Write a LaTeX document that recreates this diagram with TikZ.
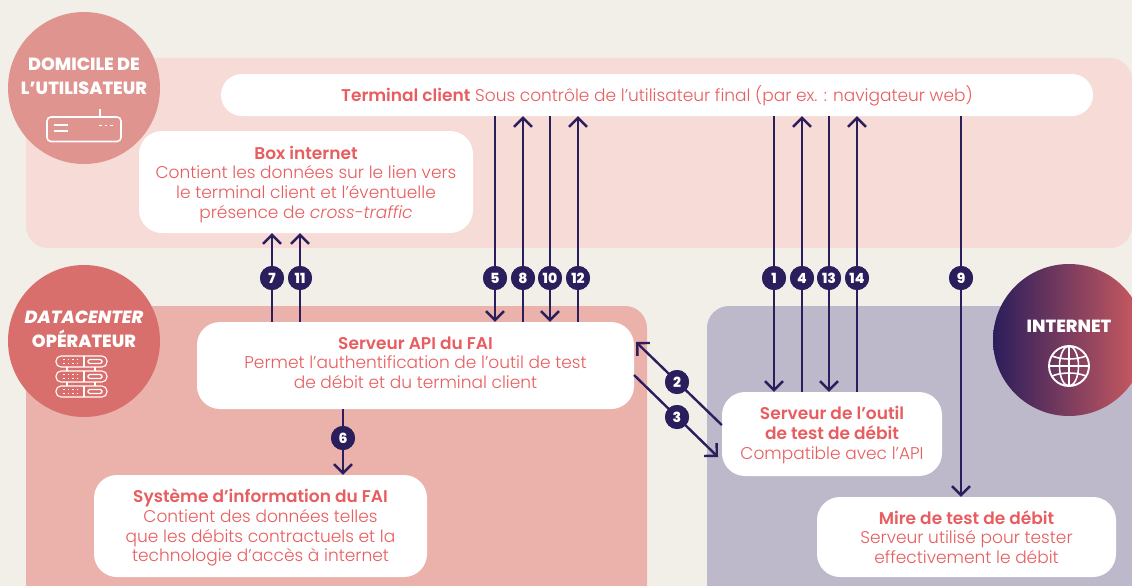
\documentclass[tikz,border=0pt]{standalone}
\usepackage{fontspec}
\setmainfont{Poppins}[UprightFont={* Light},ItalicFont={* Light Italic},BoldFont={* SemiBold},BoldItalicFont={* ExtraBold Italic}]
\newfontfamily\heavyf{Poppins}[UprightFont={* ExtraBold},ItalicFont={* ExtraBold Italic}]
\usetikzlibrary{arrows.meta,calc}
\definecolor{bgc}{HTML}{F2EFE8}
\definecolor{homec}{HTML}{F6DBD6}
\definecolor{dcc}{HTML}{EBB2AB}
\definecolor{netc}{HTML}{BDB8CA}
\definecolor{homed}{HTML}{E09490}
\definecolor{dcd}{HTML}{D96F6C}
\definecolor{navy}{HTML}{2B1E5C}
\definecolor{redt}{HTML}{E85D5F}
\definecolor{redg}{HTML}{D05C60}
\newcommand\tp[1]{\rule{0pt}{#1pt}}
\tikzset{
  x=1pt,y=-1pt,
  panel/.style={rounded corners=22pt,draw=none},
  whitebox/.style={fill=white,draw=none,rounded corners=23pt,text=redt,align=center,inner sep=0pt,font=\fontsize{17}{19.7}\selectfont},
  badge/.style={circle,fill=navy,draw=none,minimum size=24pt,inner sep=0pt,text=white,font=\heavyf\fontsize{14}{14}\selectfont},
  link/.style={draw=navy,line width=2.4pt,-{Straight Barb[length=9pt,width=18pt,line width=2.4pt]}},
  zone/.style={circle,draw=none,minimum size=152pt,inner sep=0pt},
  zonetxt/.style={text=white,align=center,inner sep=0pt,font=\heavyf\fontsize{17.6}{24}\selectfont},
  icon/.style={draw=white,line width=1.6pt,fill=none},
}
\begin{document}
\begin{tikzpicture}
\useasboundingbox (0,0) rectangle (1132,586);
\fill[bgc] (0,0) rectangle (1132,586);
\begin{scope}
\clip (0,0) rectangle (1132,586);
\fill[homec,panel] (26,58) rectangle (1132,248);
\fill[dcc,panel] (26,306) rectangle (647,640);
\fill[netc,panel] (707,306) rectangle (1180,640);
\end{scope}

% white boxes
\node[whitebox,rounded corners=21pt,minimum width=872pt,minimum height=42pt] (term) at (657,95)
  {\tp{18}\textbf{Terminal client} Sous contrôle de l’utilisateur final (par ex. : navigateur web)};
\node[whitebox,minimum width=334pt,minimum height=102pt] (box) at (306,182)
  {\tp{18}\textbf{Box internet}\\Contient les données sur le lien vers\\le terminal client et l’éventuelle\\présence de \textit{cross-traffic}};
\node[whitebox,minimum width=437pt,minimum height=87pt] (api) at (415.5,365.5)
  {\textbf{Serveur API du FAI}\\Permet l’authentification de l’outil de test\\de débit et du terminal client\rule[-6pt]{0pt}{6pt}};
\node[whitebox,minimum width=333pt,minimum height=102pt] (si) at (260.5,526)
  {\tp{17}\textbf{Système d’information du FAI}\\Contient des données telles\\que les débits contractuels et la\\technologie d’accès à internet};
\node[whitebox,minimum width=220pt,minimum height=84pt] (outil) at (832,434)
  {\tp{15}\textbf{Serveur de l’outil}\\\textbf{de test de débit}\\Compatible avec l’API};
\node[whitebox,minimum width=299pt,minimum height=80pt] (mire) at (966.5,537)
  {\tp{14}\textbf{Mire de test de débit}\\Serveur utilisé pour tester\\effectivement le débit};

% badges (positions that the connectors refer to)
\foreach \n/\xx in {7/272,11/300,5/495,8/523,10/550,12/578,1/774,4/802,13/829,14/857,9/961}
  \node[badge] (b\n) at (\xx,278) {\n};
\node[badge] (b6) at (343,438) {6};
\node[badge] (b2) at (677,382) {2};
\node[badge] (b3) at (677,417) {3};

% connectors
\foreach \n in {7,11}
  \draw[link] (b\n |- api.north) -- (b\n |- box.south);
\foreach \n in {5,10}
  \draw[link] (b\n |- term.south) -- (b\n |- api.north);
\foreach \n in {8,12}
  \draw[link] (b\n |- api.north) -- (b\n |- term.south);
\foreach \n in {1,13}
  \draw[link] (b\n |- term.south) -- (b\n |- outil.north);
\foreach \n in {4,14}
  \draw[link] (b\n |- outil.north) -- (b\n |- term.south);
\draw[link] (b9 |- term.south) -- (b9 |- mire.north);
\draw[link] (b6 |- api.south) -- (b6 |- si.north);
\coordinate (c2a) at ($(outil.west)+(0,-9)$);
\coordinate (c2b) at (636,342);
\coordinate (c3a) at (634,375);
\coordinate (c3b) at (718,457);
\draw[link] (c2a) -- (c2b);
\draw[link] (c3a) -- (c3b);
\foreach \n/\xx in {7/272,11/300,5/495,8/523,10/550,12/578,1/774,4/802,13/829,14/857,9/961}
  \node[badge] at (\xx,278) {\n};
\node[badge] at (343,438) {6};
\node[badge] at (677,382) {2};
\node[badge] at (677,417) {3};

% zones
\node[zone,fill=homed] (zhome) at (84,88) {};
\node[zonetxt] (thome) at (84,76) {DOMICILE DE\\L’UTILISATEUR};
\draw[icon,rounded corners=4pt] (47,117) rectangle (121,141.5);
\draw[icon] (100,109) -- (100,117);
\draw[icon] (54,125) -- (68,125) (54,131) -- (68,131);
\draw[icon,dash pattern=on 2.5pt off 3pt] (99,125.5) -- (115,125.5);

\node[zone,fill=dcd] (zdc) at (84,341) {};
\node[zonetxt] (tdc) at (84,329) {\textit{DATACENTER}\\OPÉRATEUR};
\foreach \yy in {356,371,386}{
  \draw[icon,line width=1.1pt,rounded corners=5pt] (56,\yy) rectangle (107,\yy+11);
  \draw[icon,line width=1.1pt] (84,\yy) -- (84,\yy+11);
  \draw[icon,line width=1.1pt,rounded corners=1.5pt] (88,\yy+3.5) rectangle (102,\yy+7.5);
  \draw[icon,line width=1.1pt,dash pattern=on 1.5pt off 3pt] (63,\yy+3.5) -- (80,\yy+3.5) (63,\yy+7.5) -- (80,\yy+7.5);
}
\draw[icon,line width=1.1pt] (67,367) -- (67,371) (95,367) -- (95,371) (67,382) -- (67,386) (95,382) -- (95,386);

\begin{scope}
\clip (0,0) rectangle (1132,586);
\node[zone,left color=navy,right color=redg] (znet) at (1069,340) {};
\end{scope}
\node[zonetxt] (tnet) at (1069,326) {INTERNET};
\draw[icon,line width=1.9pt] (1069,366) circle[radius=20pt];
\draw[icon,line width=1.6pt] (1069,366) ellipse[x radius=9.5pt,y radius=20pt];
\draw[icon,line width=1.6pt] (1069,346) -- (1069,386) (1049,366) -- (1089,366)
  (1052,356) .. controls (1062,360) and (1076,360) .. (1086,356)
  (1052,376) .. controls (1062,372) and (1076,372) .. (1086,376);
\end{tikzpicture}
\end{document}
